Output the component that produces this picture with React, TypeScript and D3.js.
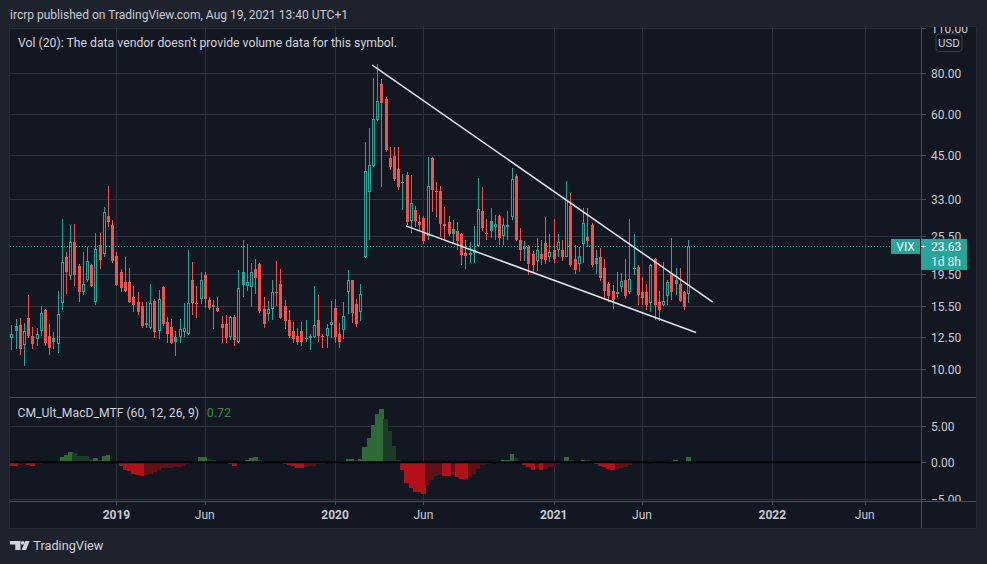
import React, { useEffect } from 'react';
import * as d3 from 'd3';

const W = 987;
const H = 564;

// ---------- DATA ----------
const startWeek = new Date(Date.UTC(2018, 6, 16));
const endWeek = new Date(Date.UTC(2021, 7, 16));
const weeks = d3.utcMonday.range(startWeek, d3.utcDay.offset(endWeek, 1));

const open = [
  12.4, 13.5, 13.55, 11.83, 14.3, 12.6, 12.3, 13.0, 15.06, 12.6, 12.4, 11.9, 15.9, 22.0, 19.2, 24.4, 20.6, 17.1, 18.6, 20.7,
  16.0, 23.8, 22.4, 29.2, 27.4, 22.1, 19.8, 18.4, 18.4, 16.6, 16.0, 15.5, 13.8, 13.3, 16.15, 13.0, 17.8, 13.9, 13.4, 12.5,
  12.5, 12.9, 12.8, 18.6, 15.9, 16.3, 19.3, 16.2, 15.6, 15.3, 13.7, 13.7, 12.5, 14.4, 12.1, 19.8, 17.9, 17.8, 20.2, 20.9,
  15.2, 14.7, 15.2, 17.2, 18.2, 15.5, 14.1, 13.0, 12.6, 13.0, 12.45, 12.4, 12.5, 14.1, 12.6, 12.6, 13.55, 15.3, 12.8, 13.1,
  17.2, 18.6, 15.8, 14.9, 22.0, 34.7, 41.7, 57.4, 74.0, 66.4, 44.0, 44.6, 40.7, 37.3, 39.1, 28.3, 30.6, 28.0, 28.9, 25.5,
  44.0, 35.0, 34.9, 27.6, 28.0, 26.7, 26.3, 25.7, 22.6, 22.4, 22.5, 23.7, 30.4, 25.9, 28.2, 27.0, 29.2, 25.4, 27.3, 29.0,
  38.8, 24.7, 23.3, 23.6, 22.4, 21.3, 22.4, 24.2, 21.9, 23.0, 23.1, 23.0, 22.0, 31.4, 21.7, 20.9, 24.0, 25.3, 27.4, 21.8,
  22.0, 20.3, 18.2, 17.3, 16.9, 17.8, 18.6, 17.1, 20.3, 20.5, 17.2, 17.2, 15.9, 21.7, 16.0, 15.6, 16.7, 19.6, 18.6, 18.1,
  17.1, 16.9,
];
const high = [
  13.55, 14.2, 14.3, 13.75, 16.8, 13.4, 13.3, 15.5, 15.2, 13.7, 12.9, 17.3, 28.7, 22.8, 27.4, 27.7, 20.9, 22.8, 23.6, 20.9,
  25.9, 25.9, 31.2, 36.1, 28.4, 22.7, 20.1, 21.9, 20.3, 17.9, 17.2, 16.0, 16.0, 18.2, 16.3, 17.4, 17.9, 14.4, 14.2, 13.0,
  14.2, 15.9, 23.1, 21.2, 17.9, 19.7, 19.7, 16.5, 16.2, 16.6, 14.5, 14.6, 14.5, 14.6, 19.97, 24.7, 24.0, 21.1, 21.6, 21.1,
  16.5, 16.15, 18.6, 21.4, 20.2, 16.2, 15.1, 13.9, 13.3, 13.9, 14.1, 12.8, 17.9, 16.8, 12.8, 13.7, 16.15, 16.3, 13.75, 16.0,
  19.97, 18.7, 16.3, 18.1, 49.3, 54.2, 77.0, 85.2, 76.7, 67.5, 47.4, 47.4, 47.4, 39.3, 39.9, 39.0, 31.5, 29.5, 29.2, 44.3,
  44.3, 37.2, 36.1, 31.2, 29.2, 28.4, 28.1, 25.9, 24.7, 24.4, 27.2, 38.1, 35.9, 28.7, 31.0, 29.5, 29.5, 28.9, 30.4, 40.9,
  39.2, 26.9, 24.6, 23.8, 22.9, 25.0, 24.7, 29.0, 25.7, 28.6, 25.7, 24.7, 37.4, 34.3, 23.8, 23.6, 31.0, 31.0, 27.9, 23.1,
  23.4, 21.7, 18.4, 18.0, 19.8, 19.6, 21.7, 28.7, 25.7, 20.7, 19.1, 18.2, 20.9, 21.8, 17.3, 21.2, 18.6, 25.0, 20.3, 20.3,
  17.3, 24.7,
];
const low = [
  11.4, 11.5, 11.0, 10.2, 12.4, 11.5, 11.7, 12.6, 11.7, 11.0, 11.5, 11.2, 15.1, 16.9, 18.6, 17.9, 16.0, 16.8, 18.4, 17.8,
  15.6, 20.2, 21.9, 27.0, 21.1, 17.9, 17.2, 17.1, 15.9, 14.9, 14.6, 13.3, 13.3, 13.2, 12.45, 12.3, 13.5, 12.0, 11.9, 10.9,
  12.0, 12.5, 12.7, 14.6, 14.3, 15.8, 15.3, 15.1, 13.2, 14.9, 12.0, 12.0, 12.2, 11.7, 12.0, 16.6, 17.3, 15.4, 16.9, 14.8,
  13.3, 14.0, 14.1, 15.5, 14.2, 13.2, 12.4, 12.0, 11.8, 11.7, 12.1, 11.4, 12.4, 12.1, 11.6, 11.6, 12.4, 12.0, 11.6, 12.3,
  14.7, 13.75, 13.4, 14.0, 21.8, 24.7, 41.3, 56.9, 35.9, 46.0, 40.5, 37.5, 35.2, 30.5, 27.5, 25.9, 27.0, 26.5, 24.0, 24.7,
  30.1, 29.0, 25.2, 24.7, 25.5, 24.2, 23.1, 20.8, 20.1, 21.1, 21.0, 23.6, 26.4, 24.7, 25.1, 24.7, 23.8, 23.8, 24.7, 28.5,
  24.5, 21.4, 21.4, 19.3, 19.7, 19.9, 20.8, 20.9, 21.2, 21.0, 22.0, 21.3, 21.9, 20.5, 19.5, 19.7, 21.1, 23.5, 20.4, 19.5,
  18.5, 16.2, 16.0, 15.2, 16.6, 17.2, 16.3, 16.9, 19.3, 15.7, 15.7, 15.06, 14.9, 14.1, 14.0, 15.5, 15.7, 16.2, 16.8, 15.95,
  15.06, 15.9,
];
const close = [
  12.8, 13.0, 11.5, 13.08, 12.6, 11.9, 12.8, 14.8, 11.95, 11.6, 12.1, 14.7, 21.2, 19.7, 24.3, 19.3, 17.2, 18.1, 21.4, 17.9,
  23.2, 21.5, 30.0, 28.1, 21.3, 18.0, 17.6, 17.3, 16.0, 15.6, 14.9, 13.5, 13.6, 15.9, 12.9, 16.3, 13.7, 12.8, 12.0, 12.1,
  13.2, 13.3, 15.9, 15.85, 15.8, 18.6, 16.3, 15.3, 15.4, 15.0, 13.3, 12.4, 14.4, 12.2, 17.6, 18.0, 18.45, 19.8, 18.9, 15.0,
  13.7, 15.2, 17.1, 17.0, 14.3, 14.0, 12.6, 12.3, 12.07, 12.05, 12.35, 12.6, 13.6, 12.6, 12.5, 13.3, 13.9, 12.5, 12.1, 14.5,
  18.7, 14.8, 13.7, 16.9, 40.1, 41.9, 57.7, 65.7, 65.0, 46.6, 41.2, 37.9, 35.9, 36.9, 28.0, 32.0, 28.2, 27.5, 24.5, 36.1,
  35.1, 34.7, 27.7, 27.3, 25.7, 25.8, 24.5, 22.2, 22.05, 22.6, 23.0, 30.7, 26.9, 25.8, 26.4, 27.6, 25.0, 27.4, 27.55, 37.9,
  24.8, 23.1, 23.6, 20.84, 20.79, 23.1, 21.57, 21.5, 22.75, 21.56, 24.3, 21.9, 32.8, 20.8, 20.0, 22.05, 27.9, 24.6, 20.7, 20.95,
  18.9, 17.3, 16.7, 16.25, 17.2, 18.5, 16.7, 18.8, 20.1, 16.75, 16.4, 15.65, 20.7, 15.6, 15.07, 16.1, 18.4, 17.2, 18.2, 16.15,
  15.45, 23.63,
];
const macdHist = [
  -0.45, -0.5, -0.4, -0.3, -0.35, -0.45, -0.3, -0.2, -0.12, -0.08, -0.04, 0.03,
  0.68, 1.0, 1.35, 1.3, 0.9, 0.88, 0.8, 0.45, 0.55, 0.35, 0.9, 1.0, 0.2, 0.05,
  -0.45, -1.0, -1.26, -1.58, -1.8, -1.85, -1.8, -1.6, -1.35, -1.13, -0.8, -0.78, -0.75, -0.72, -0.68, -0.5, -0.3, -0.1,
  0.22, 0.68, 0.7, 0.45, 0.36, 0.22, 0.1,
  -0.13, -0.22, -0.54, -0.05,
  0.22, 0.36, 0.54, 0.77, 0.3, 0.05,
  0.02, -0.02, -0.05,
  -0.13, -0.22, -0.4, -0.58, -0.77, -0.78, -0.68, -0.58, -0.45, -0.3, -0.22, -0.13, -0.05,
  0.02, 0.05, 0.1,
  0.45, 0.5, 0.3, 0.45,
  2.12, 3.3, 5.05, 6.5, 7.2, 5.85, 4.2, 2.25, 0.3,
  -1.1, -2.84, -3.5, -4.05, -4.1, -4.28, -3.06, -2.48, -1.85, -1.8, -1.82, -1.85, -1.8, -2.0, -2.25, -2.3, -1.95, -1.6, -0.9, -0.4, -0.25, -0.1,
  0.2, 0.15, 0.25, 0.35, 1.05, 0.62,
  -0.1, -0.35, -0.7, -1.0, -0.98, -1.02, -0.9, -0.7, -0.45, -0.3, -0.05,
  0.77, 0.3, 0.05, 0.02, 0.35, 0.3, 0.02,
  -0.2, -0.5, -0.7, -0.9, -1.13, -0.9, -0.77, -0.6, -0.36, -0.1,
  -0.05, 0.02, 0.04, 0.22, 0.05, 0.03, 0.02, 0.05, 0.22, 0.25, 0.18, 0.05, 0.72,
];

const priceTicks = [110, 80, 60, 45, 33, 25.5, 19.5, 15.5, 12.5, 10];
const macdTicks = [5, 0, -5];
const timeTicks = [
  { label: '2019', date: '2019-01-07', year: true },
  { label: 'Jun', date: '2019-06-03', year: false },
  { label: '2020', date: '2020-01-06', year: true },
  { label: 'Jun', date: '2020-06-01', year: false },
  { label: '2021', date: '2021-01-04', year: true },
  { label: 'Jun', date: '2021-05-31', year: false },
  { label: '2022', date: '2022-01-03', year: true },
  { label: 'Jun', date: '2022-06-06', year: false },
];
const lastPrice = 23.63;
const lastMacd = 0.72;
const trendUpper = [
  { date: '2020-03-08', price: 84.6 },
  { date: '2021-09-26', price: 15.98 },
];
const trendLower = [
  { date: '2020-05-03', price: 27.3 },
  { date: '2021-08-29', price: 12.9 },
];

// ---------- STYLE ----------
const OUTER = '#1e222d';
const PANE = '#131722';
const GRID = '#2f3340';
const SEP = '#4a4e59';
const AXIS_TXT = '#c7cad2';
const TEAL = '#26a69a';
const RED = '#ef5350';
const FONT = "Roboto, 'Noto Sans', 'DejaVu Sans', sans-serif";

const L = 10, R = 976, TOP = 27, AX = 921, MAIN_B = 397, MACD_B = 501, BOT = 528;

const parse = (s: string) => new Date(s + 'T00:00:00Z');

export default function App() {
  useEffect(() => {
    document.body.style.margin = '0';
    document.body.style.background = OUTER;
  }, []);

  const x = d3.scaleUtc().domain([startWeek, endWeek]).range([11.4, 688.2]);
  const y = d3.scaleLog().domain([10, 80]).range([368.7, 73]);
  const yM = d3.scaleLinear().domain([-5, 5]).range([498.9, 425.5]);
  const step = x(weeks[1]) - x(weeks[0]);
  const fmt = d3.format('.2f');

  const trendLine = d3
    .line<{ date: string; price: number }>()
    .x((d) => x(parse(d.date)))
    .y((d) => y(d.price));

  const macdColor = (i: number) => {
    const h = macdHist[i];
    const p = i > 0 ? macdHist[i - 1] : h;
    if (h >= 0) return h >= p ? '#2d6a35' : '#1d3b29';
    return h <= p ? '#b3111a' : '#601017';
  };

  return (
    <div style={{ position: 'fixed', left: 0, top: 0 }}>
      <svg width={W} height={H} style={{ display: 'block', fontFamily: FONT }}>
        <defs>
          <clipPath id="mainClip">
            <rect x={L} y={TOP} width={AX - L} height={MAIN_B - TOP} />
          </clipPath>
          <clipPath id="macdClip">
            <rect x={L} y={MAIN_B} width={AX - L} height={MACD_B - MAIN_B} />
          </clipPath>
          <clipPath id="axisMainClip">
            <rect x={AX} y={TOP} width={R - AX} height={MAIN_B - TOP} />
          </clipPath>
          <clipPath id="axisMacdClip">
            <rect x={AX} y={MAIN_B} width={R - AX} height={MACD_B - MAIN_B} />
          </clipPath>
        </defs>

        <rect x={0} y={0} width={W} height={H} fill={OUTER} />
        <text x={10} y={18.5} fill="#c9ccd4" fontSize={12.5} textLength={338} lengthAdjust="spacingAndGlyphs">
          ircrp published on TradingView.com, Aug 19, 2021 13:40 UTC+1
        </text>

        <rect x={L - 0.5} y={TOP - 0.5} width={R - L + 1} height={BOT - TOP + 1} fill={PANE} stroke="#262a35" />

        {/* vertical grid */}
        {timeTicks.map((t) => {
          const gx = Math.round(x(parse(t.date))) + 0.5;
          return (
            <g key={t.date}>
              <line x1={gx} x2={gx} y1={TOP} y2={MACD_B} stroke={GRID} />
              <line x1={gx} x2={gx} y1={MACD_B} y2={MACD_B + 4} stroke={SEP} />
            </g>
          );
        })}

        {/* horizontal grid main */}
        {priceTicks.map((p) => {
          const gy = Math.round(y(p)) + 0.5;
          return <line key={p} x1={L} x2={AX} y1={gy} y2={gy} stroke={GRID} />;
        })}
        {macdTicks
          .filter((v) => v !== 0)
          .map((v) => {
            const gy = Math.round(yM(v)) + 0.5;
            return <line key={v} x1={L} x2={AX} y1={gy} y2={gy} stroke={GRID} />;
          })}

        {/* candles */}
        <g clipPath="url(#mainClip)" shapeRendering="crispEdges">
          {weeks.map((d, i) => {
            const cx = Math.round(x(d));
            const o = open[i], c = close[i], hi = high[i], lo = low[i];
            const up = i === 0 ? true : c >= close[i - 1];
            const col = up ? TEAL : RED;
            const hollow = c > o;
            const yT = Math.round(y(Math.max(o, c)));
            let yB = Math.round(y(Math.min(o, c)));
            if (yB - yT < 1) yB = yT + 1;
            const yH = Math.round(y(hi));
            const yL = Math.round(y(lo));
            if (hollow) {
              return (
                <g key={i}>
                  <line x1={cx + 0.5} x2={cx + 0.5} y1={yH} y2={yT} stroke={col} />
                  <line x1={cx + 0.5} x2={cx + 0.5} y1={yB} y2={yL} stroke={col} />
                  <rect x={cx - 0.5} y={yT + 0.5} width={2} height={Math.max(yB - yT - 1, 0.5)} fill="none" stroke={col} />
                </g>
              );
            }
            return (
              <g key={i}>
                <line x1={cx + 0.5} x2={cx + 0.5} y1={yH} y2={yL} stroke={col} />
                <rect x={cx - 1} y={yT} width={3} height={yB - yT} fill={col} />
              </g>
            );
          })}
        </g>

        {/* last price dotted line */}
        <line
          x1={L}
          x2={891}
          y1={Math.round(y(lastPrice)) + 0.5}
          y2={Math.round(y(lastPrice)) + 0.5}
          stroke={TEAL}
          strokeDasharray="1 2"
        />

        {/* trend lines */}
        <g clipPath="url(#mainClip)">
          <path d={trendLine(trendUpper) || ''} stroke="#e0e3eb" strokeWidth={1.5} fill="none" />
          <path d={trendLine(trendLower) || ''} stroke="#e0e3eb" strokeWidth={1.5} fill="none" />
        </g>

        {/* MACD histogram */}
        <g clipPath="url(#macdClip)" shapeRendering="crispEdges">
          {weeks.map((d, i) => {
            const v = macdHist[i];
            const x0 = x(d) - step / 2;
            const y0 = yM(Math.max(0, v));
            const y1 = yM(Math.min(0, v));
            return <rect key={i} x={x0} y={y0} width={step + 0.3} height={Math.max(y1 - y0, 0.01)} fill={macdColor(i)} />;
          })}
        </g>
        <line x1={L} x2={AX} y1={yM(0)} y2={yM(0)} stroke="#000" strokeWidth={2} />

        {/* separators */}
        <line x1={L} x2={R} y1={MAIN_B + 0.5} y2={MAIN_B + 0.5} stroke={SEP} />
        <line x1={L} x2={R} y1={MACD_B + 0.5} y2={MACD_B + 0.5} stroke={SEP} />
        <line x1={AX + 0.5} x2={AX + 0.5} y1={TOP} y2={BOT} stroke={SEP} />

        {/* price axis */}
        <g clipPath="url(#axisMainClip)">
          {priceTicks.map((p) => {
            const gy = Math.round(y(p)) + 0.5;
            return (
              <g key={p}>
                <line x1={AX} x2={AX + 5} y1={gy} y2={gy} stroke={SEP} />
                <text x={931} y={gy + 4.3} fill={AXIS_TXT} fontSize={12}>
                  {fmt(p)}
                </text>
              </g>
            );
          })}
        </g>
        <g clipPath="url(#axisMacdClip)">
          {macdTicks.map((v) => {
            const gy = Math.round(yM(v)) + 0.5;
            return (
              <g key={v}>
                <line x1={AX} x2={AX + 5} y1={gy} y2={gy} stroke={SEP} />
                <text x={931} y={gy + 4.3} fill={AXIS_TXT} fontSize={12}>
                  {fmt(v)}
                </text>
              </g>
            );
          })}
        </g>

        {/* USD box */}
        <rect x={936} y={34} width={26} height={17.5} rx={3} fill={PANE} stroke="#3a3e4a" />
        <text x={949} y={46.8} fill={AXIS_TXT} fontSize={11.5} textAnchor="middle">
          USD
        </text>

        {/* last price labels */}
        <rect x={891} y={y(lastPrice) - 7.5} width={29} height={15} fill={TEAL} />
        <text x={905.5} y={y(lastPrice) + 4.3} fill="#ffffff" fontSize={12} textAnchor="middle">
          VIX
        </text>
        <rect x={921} y={y(lastPrice) - 7.5} width={46} height={31} fill={TEAL} />
        <line x1={AX} x2={AX + 5} y1={Math.round(y(lastPrice)) + 0.5} y2={Math.round(y(lastPrice)) + 0.5} stroke="#ffffff" />
        <text x={931} y={y(lastPrice) + 4.5} fill="#ffffff" fontSize={12}>
          {fmt(lastPrice)}
        </text>
        <text x={931} y={y(lastPrice) + 20} fill="#e0f4f2" fontSize={12}>
          1d 8h
        </text>

        {/* time axis labels */}
        {timeTicks.map((t) => (
          <text
            key={t.date}
            x={x(parse(t.date))}
            y={519.3}
            fill={AXIS_TXT}
            fontSize={12}
            fontWeight={t.year ? 700 : 400}
            textAnchor="middle"
          >
            {t.label}
          </text>
        ))}

        {/* legends */}
        <text x={18} y={46.7} fill="#d1d4dc" fontSize={12.5} textLength={379} lengthAdjust="spacingAndGlyphs">
          Vol (20): The data vendor doesn't provide volume data for this symbol.
        </text>
        <text x={17.5} y={417.3} fill="#d1d4dc" fontSize={12.5} textLength={181.5} lengthAdjust="spacingAndGlyphs">
          CM_Ult_MacD_MTF (60, 12, 26, 9)
        </text>
        <text x={206.7} y={417.3} fill="#388e3c" fontSize={12.5}>
          {fmt(lastMacd)}
        </text>

        {/* footer logo */}
        <g fill="#d1d4dc">
          <path d="M10,541 H20.5 V550 H15.3 V544.6 H10 Z" />
          <circle cx={22.6} cy={542.9} r={1.8} />
          <path d="M25.2,541 H29.6 L26.1,550 H21.6 Z" />
        </g>
        <text x={33.3} y={550.2} fill="#d1d4dc" fontSize={13.5} textLength={70} lengthAdjust="spacingAndGlyphs">
          TradingView
        </text>
      </svg>
    </div>
  );
}
